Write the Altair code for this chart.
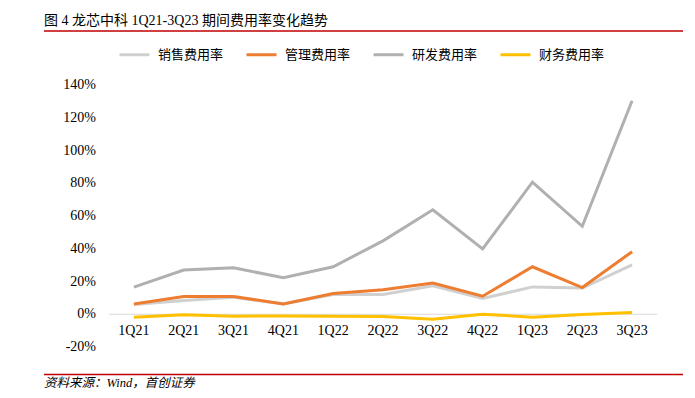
import altair as alt
import pandas as pd

quarters = ["1Q21", "2Q21", "3Q21", "4Q21", "1Q22", "2Q22", "3Q22", "4Q22", "1Q23", "2Q23", "3Q23"]
series_names = ["销售费用率", "管理费用率", "研发费用率", "财务费用率"]
sales = [6.0, 8.4, 10.4, 6.3, 12.0, 12.0, 17.4, 9.6, 16.7, 16.0, 30.2]
admin = [6.3, 10.8, 10.8, 6.3, 12.7, 14.9, 19.0, 11.0, 29.0, 16.3, 38.2]
rnd = [16.6, 27.0, 28.4, 22.3, 29.0, 44.8, 63.8, 39.9, 80.7, 53.7, 130.4]
fin = [-1.8, -0.3, -1.2, -1.0, -1.2, -1.4, -3.1, 0.0, -1.8, -0.2, 1.0]
colors = ["#D0D0D0", "#ED7D31", "#B0B0B0", "#FFC000"]
y_ticks = [-20, 0, 20, 40, 60, 80, 100, 120, 140]

title_text = "图 4  龙芯中科 1Q21-3Q23 期间费用率变化趋势"
source_text = "资料来源：Wind，首创证券"

rows = []
for name, vals in zip(series_names, [sales, admin, rnd, fin]):
    for i, (q, v) in enumerate(zip(quarters, vals)):
        rows.append({"q": q, "v": v, "s": name, "k": series_names.index(name)})
df = pd.DataFrame(rows)
qdf = pd.DataFrame({"q": quarters, "z": [0] * len(quarters)})
ydf = pd.DataFrame({"t": y_ticks, "lab": [f"{t}%" for t in y_ticks]})
zdf = pd.DataFrame({"z": [0]})
one = pd.DataFrame({"a": [0]})

FONT = "Liberation Serif, Noto Sans CJK SC"

x_enc = alt.X("q:N", sort=quarters, axis=None, scale=alt.Scale(padding=0.5))
y_scale = alt.Scale(domain=[-20, 140], nice=False, zero=False)

lines = alt.Chart(df).mark_line(strokeWidth=3).encode(
    x=x_enc,
    y=alt.Y("v:Q", scale=y_scale, axis=None),
    color=alt.Color("s:N", sort=series_names,
                    scale=alt.Scale(domain=series_names, range=colors),
                    legend=alt.Legend(title=None, orient="none", legendX=9, legendY=-47,
                                      direction="horizontal", symbolType="stroke",
                                      symbolSize=900, symbolStrokeWidth=3,
                                      labelFont="Noto Sans CJK SC", labelFontSize=13,
                                      labelColor="#000", columnPadding=16, labelOffset=7)),
    order=alt.Order("k:Q"),
)

zero = alt.Chart(zdf).mark_rule(color="#D9D9D9", strokeWidth=1).encode(
    x=alt.value(0), x2=alt.value(548), y=alt.Y("z:Q", scale=y_scale, axis=None)
)

xlabels = alt.Chart(qdf).mark_text(font=FONT, fontSize=14, color="#000", baseline="middle", dy=17).encode(
    x=x_enc, y=alt.Y("z:Q", scale=y_scale, axis=None), text="q:N"
)

ylabels = alt.Chart(ydf).mark_text(font=FONT, fontSize=14, color="#000", baseline="middle",
                                   align="right").encode(
    x=alt.value(-13), y=alt.Y("t:Q", scale=y_scale, axis=None), text="lab:N"
)

red_top = alt.Chart(one).mark_rule(color="#C00000", strokeWidth=1.5).encode(
    x=alt.value(-65), x2=alt.value(574), y=alt.value(-54)
)
red_bot = alt.Chart(one).mark_rule(color="#C00000", strokeWidth=1.5).encode(
    x=alt.value(-65), x2=alt.value(574), y=alt.value(289.5)
)
title = alt.Chart(one).mark_text(text=title_text, font=FONT, fontSize=14, color="#000",
                                 align="left", baseline="middle").encode(
    x=alt.value(-65), y=alt.value(-64)
)
footer = alt.Chart(one).mark_text(text=source_text, font=FONT, fontSize=12.5, fontStyle="italic",
                                  color="#000", align="left", baseline="middle").encode(
    x=alt.value(-65), y=alt.value(298)
)

chart = alt.layer(zero, lines, xlabels, ylabels, red_top, red_bot, title, footer).properties(
    width=548, height=262,
    autosize=alt.AutoSizeParams(type="none"),
    padding={"left": 101, "top": 77, "right": 30, "bottom": 51},
).configure_view(stroke=None)

chart.save("out.html", embed_options={"renderer": "svg", "actions": False})
